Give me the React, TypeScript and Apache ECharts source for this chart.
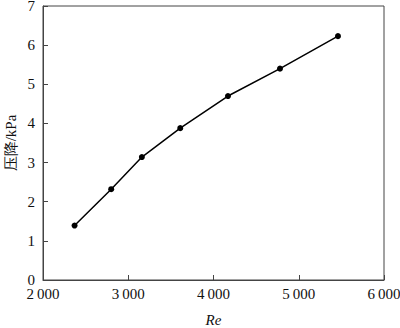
import React, { useEffect, useRef } from "react";
import * as echarts from "echarts";

const reValues = [2370, 2800, 3160, 3610, 4170, 4780, 5460];
const pressureDrop = [1.39, 2.32, 3.14, 3.88, 4.7, 5.4, 6.23];
const xName = "Re";
const yName = "压降/kPa";

const FONT = "serif";

export default function App() {
  const ref = useRef<HTMLDivElement>(null);
  useEffect(() => {
    if (!ref.current) return;
    const chart = echarts.init(ref.current, null, { renderer: "svg" });
    chart.setOption({
      animation: false,
      backgroundColor: "#fff",
      textStyle: { fontFamily: FONT },
      grid: {
        left: 43,
        top: 6,
        right: 16,
        bottom: 48,
        outerBoundsMode: "none",
        containLabel: false,
        show: true,
        borderColor: "#444",
        borderWidth: 1,
      },
      xAxis: {
        type: "value",
        min: 2000,
        max: 6000,
        interval: 1000,
        name: xName,
        nameLocation: "middle",
        nameGap: 32,
        nameMoveOverlap: false,
        nameTextStyle: { fontFamily: FONT, fontStyle: "italic", fontSize: 15, color: "#111" },
        axisLine: { show: true, lineStyle: { color: "#444", width: 1 } },
        axisTick: { show: true, inside: true, length: 5, lineStyle: { color: "#444" } },
        axisLabel: {
          fontFamily: FONT,
          fontSize: 15,
          lineHeight: 12,
          color: "#111",
          margin: 8,
          formatter: (v: number) => {
            const s = String(v);
            return s.length > 3 ? s.slice(0, s.length - 3) + "\u2009" + s.slice(-3) : s;
          },
        },
        splitLine: { show: false },
      },
      yAxis: {
        type: "value",
        min: 0,
        max: 7,
        interval: 1,
        name: yName,
        nameLocation: "middle",
        nameGap: 25,
        nameMoveOverlap: false,
        nameTextStyle: { fontFamily: FONT, fontSize: 15, color: "#111" },
        axisLine: { show: true, lineStyle: { color: "#444", width: 1 } },
        axisTick: { show: true, inside: true, length: 5, lineStyle: { color: "#444" } },
        axisLabel: { fontFamily: FONT, fontSize: 15, lineHeight: 12, color: "#111", margin: 8 },
        splitLine: { show: false },
      },
      series: [
        {
          type: "line",
          data: reValues.map((x, i) => [x, pressureDrop[i]]),
          symbol: "circle",
          symbolSize: 6,
          itemStyle: { color: "#000" },
          lineStyle: { color: "#000", width: 1.5 },
        },
      ],
    });
    return () => chart.dispose();
  }, []);
  return (
    <div
      ref={ref}
      style={{ position: "fixed", left: 0, top: 0, width: 400, height: 328 }}
    />
  );
}
